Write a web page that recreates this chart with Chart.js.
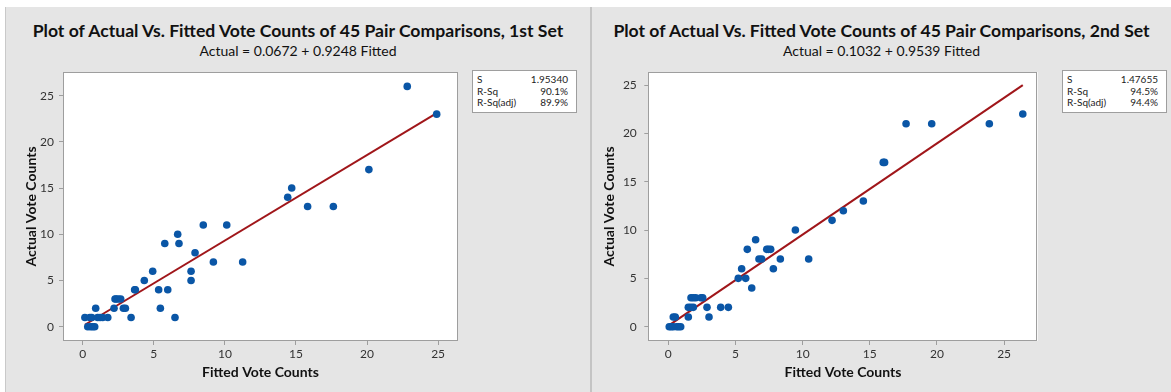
<!DOCTYPE html>
<html>
<head>
<meta charset="utf-8">
<script src="https://cdn.jsdelivr.net/npm/chart.js@4.4.1/dist/chart.umd.min.js"></script>
<style>
  html, body { margin: 0; padding: 0; background: #ffffff; width: 1171px; height: 392px; overflow: hidden; }
  body { position: relative; font-family: Lato, "Open Sans", sans-serif; color: #111; }
  .panel { position: absolute; top: 7px; height: 385px; background: #e5e5e5; }
  #panel1 { left: 5px; width: 585px; border-left: 1px solid #c9c9c9; }
  #panel2 { left: 590px; width: 579px; border-left: 2px solid #c4c4c4; }
  canvas { position: absolute; top: 7px; }
  #chart1 { left: 6px; }
  #chart2 { left: 592px; }
  .title { position: absolute; text-align: center; font-weight: bold; font-size: 17.6px; line-height: 20px; white-space: nowrap; color: #111; }
  .subtitle { position: absolute; text-align: center; font-size: 14px; line-height: 16px; white-space: nowrap; color: #111; }
  .stats { position: absolute; top: 70px; width: 103px; height: 38px; background: #fff; border: 1px solid #9e9e9e;
           font-size: 10px; line-height: 11.5px; color: #222; box-sizing: content-box; padding-top: 3px; }
  .stats .row { display: flex; justify-content: space-between; padding: 0 8px 0 4px; }
</style>
</head>
<body>
<div class="panel" id="panel1"></div>
<div class="panel" id="panel2"></div>

<div class="title" style="left:6px;width:584px;top:21px;">Plot of Actual Vs. Fitted Vote Counts of 45 Pair Comparisons, 1st Set</div>
<div class="subtitle" style="left:6px;width:584px;top:43px;">Actual = 0.0672 + 0.9248 Fitted</div>
<div class="title" style="left:592px;width:579px;top:21px;">Plot of Actual Vs. Fitted Vote Counts of 45 Pair Comparisons, 2nd Set</div>
<div class="subtitle" style="left:592px;width:579px;top:43px;">Actual = 0.1032 + 0.9539 Fitted</div>

<canvas id="chart1" width="584" height="385"></canvas>
<canvas id="chart2" width="579" height="385"></canvas>

<div class="stats" style="left:472px;">
  <div class="row"><span>S</span><span>1.95340</span></div>
  <div class="row"><span>R-Sq</span><span>90.1%</span></div>
  <div class="row"><span>R-Sq(adj)</span><span>89.9%</span></div>
</div>
<div class="stats" style="left:1062px;">
  <div class="row"><span>S</span><span>1.47655</span></div>
  <div class="row"><span>R-Sq</span><span>94.5%</span></div>
  <div class="row"><span>R-Sq(adj)</span><span>94.4%</span></div>
</div>

<script>
// 1st set: fitted and actual vote counts for the 45 pair comparisons
const fitted1 = [0.15, 0.35, 0.50, 0.55, 0.63, 0.70, 0.84, 0.91, 1.05, 1.22,
                 1.40, 1.76, 2.20, 2.27, 2.35, 2.50, 2.67, 2.86, 3.00, 3.40,
                 3.65, 3.70, 4.33, 4.92, 5.34, 5.46, 5.77, 5.98, 6.49, 6.68,
                 6.77, 7.62, 7.62, 7.90, 8.48, 9.19, 10.13, 11.25, 14.42, 14.70,
                 15.82, 17.63, 20.13, 22.83, 24.90];
const actual1 = [1, 0, 1, 0, 1, 0, 0, 2, 1, 1,
                 1, 1, 2, 3, 3, 3, 3, 2, 2, 1,
                 4, 4, 5, 6, 4, 2, 9, 4, 1, 10,
                 9, 6, 5, 8, 11, 7, 11, 7, 14, 15,
                 13, 13, 17, 26, 23];

// 2nd set
const fitted2 = [0.07, 0.22, 0.37, 0.37, 0.52, 0.62, 0.77, 0.92, 1.49, 1.49,
                 1.67, 1.86, 1.69, 1.86, 2.04, 2.43, 2.56, 2.88, 3.03, 3.90,
                 4.47, 5.21, 5.46, 5.76, 5.88, 6.21, 6.50, 6.75, 6.95, 7.33,
                 7.45, 7.62, 7.82, 8.34, 9.46, 10.45, 12.19, 13.03, 14.52, 16.00,
                 16.10, 17.70, 19.61, 23.90, 26.39];
const actual2 = [0, 0, 1, 0, 1, 0, 0, 0, 1, 2,
                 2, 2, 3, 3, 3, 3, 3, 2, 1, 2,
                 2, 5, 6, 5, 8, 4, 9, 7, 7, 8,
                 8, 8, 6, 7, 10, 7, 11, 12, 13, 17,
                 17, 21, 21, 21, 22];

// Regression line end points (start and end of each fitted line)
const fitLineX1 = [0.15, 24.90];
const fitLineY1 = [0.21, 23.10];
const fitLineX2 = [0.07, 26.39];
const fitLineY2 = [0.17, 25.00];

// Axis tick values
const xTickValues = [0, 5, 10, 15, 20, 25];
const yTickValues = [0, 5, 10, 15, 20, 25];

const FONT = 'Lato, "Open Sans", sans-serif';
const POINT_COLOR = '#0a56a6';
const LINE_COLOR = '#a0161a';

const toPoints = (xs, ys) => xs.map((x, i) => ({ x: x, y: ys[i] }));

// White plot area and grey frame around it
const plotFrame = {
  id: 'plotFrame',
  beforeDatasetsDraw(chart) {
    const a = chart.chartArea, ctx = chart.ctx;
    ctx.save();
    ctx.fillStyle = '#ffffff';
    ctx.fillRect(a.left, a.top, a.right - a.left, a.bottom - a.top);
    ctx.restore();
  },
  afterDraw(chart) {
    const a = chart.chartArea, ctx = chart.ctx;
    ctx.save();
    ctx.strokeStyle = '#9e9e9e';
    ctx.lineWidth = 1;
    ctx.strokeRect(Math.round(a.left) + 0.5, Math.round(a.top) + 0.5,
                   Math.round(a.right - a.left) - 1, Math.round(a.bottom - a.top) - 1);
    ctx.restore();
  }
};

function buildChart(id, cfg) {
  return new Chart(document.getElementById(id), {
    type: 'scatter',
    data: {
      datasets: [
        {
          type: 'line',
          data: toPoints(cfg.lineX, cfg.lineY),
          borderColor: LINE_COLOR,
          borderWidth: 2,
          pointRadius: 0,
          fill: false,
          order: 2
        },
        {
          data: toPoints(cfg.fitted, cfg.actual),
          backgroundColor: POINT_COLOR,
          borderColor: POINT_COLOR,
          pointRadius: 3.8,
          borderWidth: 0,
          order: 1
        }
      ]
    },
    options: {
      responsive: false,
      animation: false,
      events: [],
      layout: { padding: { left: 0, top: 65, right: cfg.padRight, bottom: 0 } },
      plugins: { legend: { display: false }, tooltip: { enabled: false }, title: { display: false } },
      scales: {
        x: {
          type: 'linear',
          min: cfg.xMin, max: cfg.xMax,
          afterBuildTicks: s => { s.ticks = xTickValues.map(v => ({ value: v })); },
          afterFit: s => { s.height = 51; },
          border: { display: false },
          grid: { drawOnChartArea: false, drawTicks: true, tickLength: 4, color: '#9e9e9e' },
          ticks: { color: '#333', padding: 2, font: { family: FONT, size: 12 } },
          title: { display: true, text: 'Fitted Vote Counts', color: '#111',
                   font: { family: FONT, size: 14, weight: 'bold' }, padding: { top: 0, bottom: 11.5 } }
        },
        y: {
          type: 'linear',
          min: cfg.yMin, max: cfg.yMax,
          afterBuildTicks: s => { s.ticks = yTickValues.map(v => ({ value: v })); },
          afterFit: s => { s.width = cfg.yWidth; },
          border: { display: false },
          grid: { drawOnChartArea: false, drawTicks: true, tickLength: 4, color: '#9e9e9e' },
          ticks: { color: '#333', padding: cfg.yTickPad, font: { family: FONT, size: 12 } },
          title: { display: true, text: 'Actual Vote Counts', color: '#111',
                   font: { family: FONT, size: 14, weight: 'bold' }, padding: { top: cfg.yTitlePad, bottom: 0 } }
        }
      }
    },
    plugins: [plotFrame]
  });
}

buildChart('chart1', {
  fitted: fitted1, actual: actual1, lineX: fitLineX1, lineY: fitLineY1,
  xMin: -1.39, xMax: 26.4, yMin: -1.55, yMax: 27.56,
  padRight: 132, yWidth: 57, yTickPad: 5, yTitlePad: 17.5
});

buildChart('chart2', {
  fitted: fitted2, actual: actual2, lineX: fitLineX2, lineY: fitLineY2,
  xMin: -1.49, xMax: 27.5, yMin: -1.48, yMax: 26.35,
  padRight: 133.3, yWidth: 56.3, yTickPad: 7.5, yTitlePad: 9
});
</script>
</body>
</html>
